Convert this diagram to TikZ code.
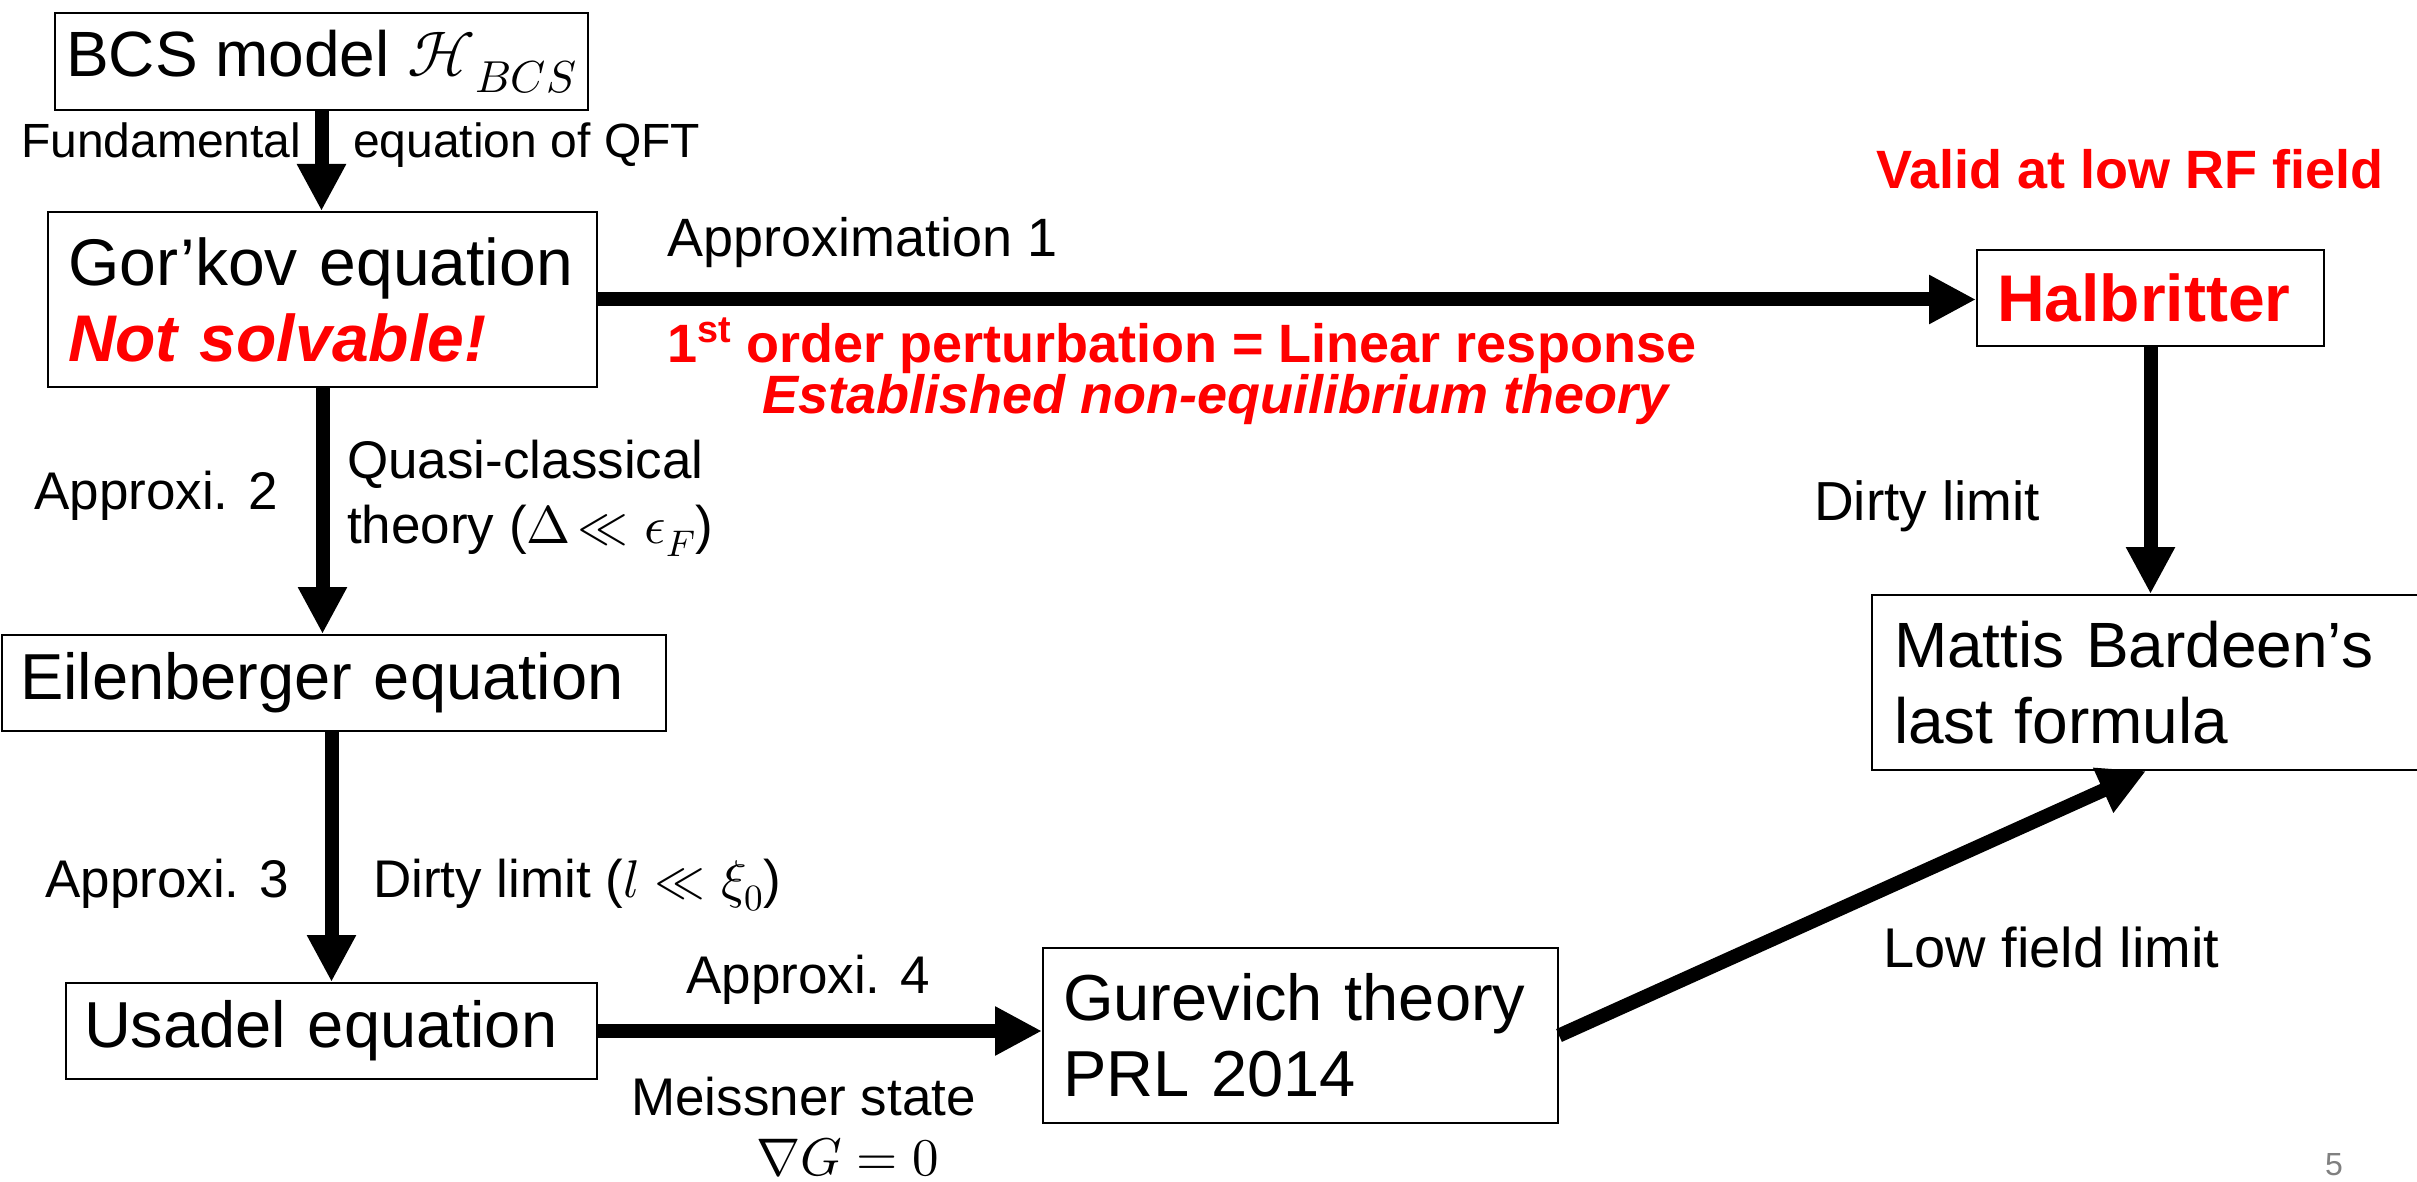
\documentclass[tikz,border=0pt]{standalone}
\usepackage{fontspec}
\usepackage{unicode-math}
\setmainfont{Liberation Sans}
\usetikzlibrary{arrows.meta,calc}
\newcommand\setfs[2]{\fontsize{#1}{#2}\selectfont}
\begin{document}
\begin{tikzpicture}[x=1pt,y=-1pt,
  box/.style={draw, line width=2pt, inner ysep=0pt, align=left, anchor=north west},
  lab/.style={inner sep=0pt, anchor=base west},
  conn/.style={line width=14pt, -{Triangle[length=47pt,width=46pt]}},
  redb/.style={text=red, font=\setfs{54}{64}\bfseries}]
\path[use as bounding box] (0,0) rectangle (2417,1182);
\clip (0,0) rectangle (2417,1182);
% boxes
\node[draw, line width=2pt, inner sep=0pt, anchor=north west, minimum width=533pt, minimum height=97pt, font=\setfs{64}{76}] (bcs) at (54,12) {BCS model $\mathcal{H}_{BCS}$};
\node[box, inner xsep=20pt, text width=509pt, minimum height=175pt, font=\setfs{66}{76}] (gk) at (47,211) {Gor’kov equation\\ \textcolor{red}{\bfseries\itshape Not solvable!}};
\node[box, inner xsep=18pt, text width=628pt, minimum height=96pt, font=\setfs{65}{76}] (eil) at (1,634) {Eilenberger equation};
\node[box, inner xsep=18pt, text width=495pt, minimum height=96pt, font=\setfs{65}{76}] (us) at (65,982) {Usadel equation};
\node[box, inner xsep=20pt, text width=307pt, minimum height=96pt, text=red, font=\setfs{66}{76}\bfseries] (hal) at (1976,249) {Halbritter};
\node[box, inner xsep=20pt, text width=475pt, minimum height=175pt, font=\setfs{65}{76}] (gur) at (1042,947) {Gurevich theory\\PRL 2014};
\node[box, inner xsep=22pt, text width=504pt, minimum height=175pt, font=\setfs{64}{76}] (mb) at (1871,594) {Mattis Bardeen’s\\last formula};
% labels
\node[lab, font=\setfs{48}{58}] (fund) at (21,158) {Fundamental};
\node[lab, font=\setfs{48}{58}] (eqqft) at (353,158) {equation of QFT};
\node[lab, font=\setfs{54}{64}] (ap1) at (667,257) {Approximation 1};
\node[lab, redb] (pert) at (667,362) {1\textsuperscript{st} order perturbation = Linear response};
\node[lab, redb] (estab) at (762,413) {\itshape Established non-equilibrium theory};
\node[lab, redb] (valid) at (1876,189) {Valid at low RF field};
\node[lab, font=\setfs{55}{64}] (dl1) at (1814,520) {Dirty limit};
\node[lab, font=\setfs{53}{64}] (qc1) at (347,478) {Quasi-classical};
\node[lab, font=\setfs{53}{64}] (qc2) at (347,543) {theory ($\Delta\!\ll \epsilon_F$)};
\node[lab, font=\setfs{53}{64}] (ap2) at (34,509) {Approxi. 2};
\node[lab, font=\setfs{53}{64}] (ap3) at (45,897) {Approxi. 3};
\node[lab, font=\setfs{53}{64}] (dl2) at (373,897) {Dirty limit ($l \ll \xi_0$)};
\node[lab, font=\setfs{53}{64}] (ap4) at (686,993) {Approxi. 4};
\node[lab, font=\setfs{53}{64}] (meis) at (631,1115) {Meissner state};
\node[lab, font=\setfs{53}{64}] (nab) at (756,1175) {$\nabla G = 0$};
\node[lab, font=\setfs{56}{64}] (lowf) at (1883,967) {Low field limit};
\node[lab, font=\setfs{32}{38}, text=gray] (pg) at (2325,1175) {5};
% connectors
\draw[conn] (bcs.south) -- (bcs.south |- gk.north);
\draw[conn] (gk.east) -- (gk.east -| hal.west);
\draw[conn] (gk.south) -- (gk.south |- eil.north);
\draw[conn] (us.north |- eil.south) -- (us.north);
\draw[conn] (us.east) -- (us.east -| gur.west);
\draw[conn] (hal.south) -- (hal.south |- mb.north);
\draw[conn] (gur.east) -- (mb.south);
\end{tikzpicture}
\end{document}
